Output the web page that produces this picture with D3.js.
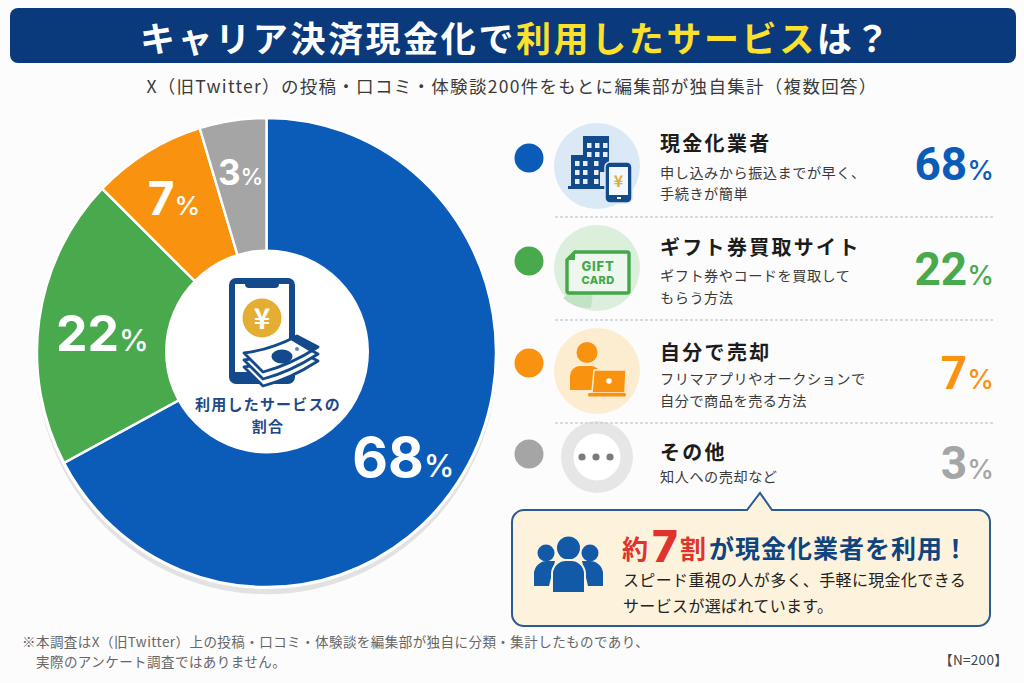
<!DOCTYPE html>
<html lang="ja"><head><meta charset="utf-8">
<script src="https://cdn.jsdelivr.net/npm/d3@7"></script>
<style>
html,body{margin:0;padding:0;background:#fcfcfc}
svg{display:block}
text{font-family:"Noto Sans CJK JP","Noto Sans",sans-serif;dominant-baseline:central}
text.num,tspan.num{font-family:Inter,"Liberation Sans",sans-serif;dominant-baseline:alphabetic}
tspan.rob{font-family:Roboto,"Liberation Sans",sans-serif;dominant-baseline:alphabetic}
</style></head><body><svg id="c" width="1024" height="683"></svg>
<script>
// ---- data ----
const categories = ["現金化業者","ギフト券買取サイト","自分で売却","その他"];
const percents = [68,22,7,3];               // printed labels
const drawnSweep = [67.2,20.1,8,4.7];       // slice sizes as actually drawn in the picture (measured angles, %)
const descriptions = [
  ["申し込みから振込までが早く、","手続きが簡単"],
  ["ギフト券やコードを買取して","もらう方法"],
  ["フリマアプリやオークションで","自分で商品を売る方法"],
  ["知人への売却など"]];
const colors = ["#0a5cb8","#48a94d","#f9920f","#a5a5a5"];
const tints = ["#dbe8f6","#dcefdc","#fdedd0","#e6e6e6"];

// ---- layout ----
const svg = d3.select("#c");
const cx=266.5, cy=352.5, R=229.5, r0=102;
const navy="#0a3a7c", mid="#134a8c", ink="#1c1c1c", body="#3a3a3a";
function T(g,x,y,s,size,fill,opt={}){
  return g.append("text").attr("x",x).attr("y",y).text(s)
   .attr("font-size",size).attr("fill",fill)
   .attr("font-weight",opt.w||400).attr("text-anchor",opt.a||"start")
   .style("letter-spacing",(opt.ls||0)+"px");
}
// header
svg.append("rect").attr("x",10).attr("y",8).attr("width",1006).attr("height",55).attr("rx",8).attr("fill",navy);
const title=svg.append("text").attr("x",516).attr("y",36).attr("text-anchor","middle")
  .attr("font-size",35).attr("font-weight",700).style("letter-spacing","2.6px");
title.append("tspan").attr("fill","#fff").text("キャリア決済現金化で");
title.append("tspan").attr("fill","#fce12c").text("利用したサービス");
title.append("tspan").attr("fill","#fff").text("は？");
T(svg,512,85,"X（旧Twitter）の投稿・口コミ・体験談200件をもとに編集部が独自集計（複数回答）",17.5,"#3a3a3a",{a:"middle",ls:1.3});

// pie
const pie=d3.pie().sort(null).value(d=>d)(drawnSweep);
const arc=d3.arc().innerRadius(0).outerRadius(R);
const pg=svg.append("g").attr("transform",`translate(${cx},${cy}) scale(1,1.022)`);
pg.append("circle").attr("cy",6).attr("r",R+1).attr("fill","#e2e2e2");
pg.append("circle").attr("cy",0).attr("r",R+2).attr("fill","#fcfcfc");
pg.selectAll("path.s").data(pie).join("path").attr("class","s")
  .attr("d",arc).attr("fill",(d,i)=>colors[i]).attr("stroke","#fff").attr("stroke-width",2.4);
svg.append("circle").attr("cx",267).attr("cy",351.5).attr("r",r0).attr("fill","#fff");
// slice labels
const labelR=[185,164,165.7,169.5], labelA=[11.3,-7.6,-2.6,-.3], labelFont=[[55,31],[50,30],[46,26],[35,23]];
const lg=svg.append("g").attr("transform",`translate(${cx},${cy})`);
lg.selectAll("text.p").data(pie).join("text").attr("class","p num")
  .attr("text-anchor","middle").attr("fill","#fff")
  .attr("x",(d,i)=>labelR[i]*Math.sin((d.startAngle+d.endAngle)/2+labelA[i]*Math.PI/180))
  .attr("y",(d,i)=>-labelR[i]*Math.cos((d.startAngle+d.endAngle)/2+labelA[i]*Math.PI/180))
  .each(function(d,i){const t=d3.select(this);
    t.append("tspan").attr("class","num").attr("font-weight",700).attr("font-size",labelFont[i][0]).text(percents[i]);
    t.append("tspan").attr("class","num").attr("font-weight",500).attr("font-size",labelFont[i][1]).text("%");});

// centre icon
const ci=svg.append("g");
ci.append("path").attr("fill-rule","evenodd").attr("fill",mid)
  .attr("d","M236 278h52a7 7 0 0 1 7 7v92a7 7 0 0 1-7 7h-52a7 7 0 0 1-7-7v-92a7 7 0 0 1 7-7zM235 284v93h54v-93h-10a4 4 0 0 1-4 4h-26a4 4 0 0 1-4-4z");
ci.append("circle").attr("cx",262).attr("cy",318).attr("r",19.5).attr("fill","#e3ae33");
T(ci,262,317,"¥",28,"#fff",{a:"middle",w:700});
ci.append("path").attr("fill",mid).attr("d","M232 372h28l8 12h-32z");
const bill=(dy)=>ci.append("path").attr("fill","#fff").attr("stroke",mid).attr("stroke-width",2.8).attr("stroke-linejoin","round")
  .attr("d",`M244 ${353+dy} Q270 ${350+dy} 297 ${336+dy} L318 ${347+dy} Q290 ${365+dy} 263 ${372+dy} Z`);
bill(14);bill(7);bill(0);
ci.append("ellipse").attr("cx",282).attr("cy",356.5).attr("rx",10.5).attr("ry",7).attr("fill",mid);
ci.append("circle").attr("cx",297).attr("cy",349).attr("r",2).attr("fill","#5d86b4");
ci.append("path").attr("fill",mid).attr("d","M297 336L318 347L309 351L289 339Z");
T(svg,268,403,"利用したサービスの",15,"#1d4a86",{a:"middle",w:700,ls:1.2});
T(svg,268,425,"割合",15,"#1d4a86",{a:"middle",w:700,ls:1.2});

// legend rows
const rowDot=[158,261,363,454], rowIcon=[166,268,371,457],
  rowTitle=[142,246,351,451], rowDesc=[[172,193],[275,297],[378,400],[476]], rowPct=[180,285,389,479];
const leg=svg.append("g");
leg.selectAll("circle.d").data(categories).join("circle").attr("class","d")
  .attr("cx",529).attr("cy",(d,i)=>rowDot[i]).attr("r",14.5).attr("fill",(d,i)=>colors[i]);
leg.selectAll("circle.i").data(categories).join("circle").attr("class","i")
  .attr("cx",597).attr("cy",(d,i)=>rowIcon[i]).attr("r",(d,i)=>i==3?36:43).attr("fill",(d,i)=>tints[i]);
categories.forEach((c,i)=>{
  T(leg,660,rowTitle[i],c,20,ink,{w:700,ls:2.3});
  descriptions[i].forEach((l,k)=>T(leg,660,rowDesc[i][k],l,14.2,body,{ls:.5}));
  const t=leg.append("text").attr("class","num").attr("x",994).attr("y",rowPct[i]).attr("text-anchor","end").attr("fill",colors[i]);
  t.append("tspan").attr("class","rob").attr("font-weight",700).attr("font-size",46).text(percents[i]);
  t.append("tspan").attr("class","num").attr("font-weight",500).attr("font-size",27).text("%");
});
[217,320,423].forEach(y=>leg.append("line").attr("x1",555).attr("x2",994).attr("y1",y).attr("y2",y)
  .attr("stroke","#c6d0da").attr("stroke-width",1.4).attr("stroke-dasharray","3 2"));

// icon 1: buildings + phone
const ic1=svg.append("g").attr("fill",mid);
ic1.append("rect").attr("x",583).attr("y",136).attr("width",26).attr("height",36);
ic1.append("rect").attr("x",571).attr("y",155).attr("width",29).attr("height",33);
ic1.append("rect").attr("x",568).attr("y",186).attr("width",39).attr("height",3);
[[587,143],[595,143],[603,143],[587,152],[595,152],[603,152],[575,161],[583,161],[594,161],[575,170],[583,170],[594,170],[575,179],[583,179],[594,179]]
  .forEach(p=>ic1.append("rect").attr("x",p[0]).attr("y",p[1]).attr("width",4.5).attr("height",5).attr("fill","#e6eff9"));
ic1.append("rect").attr("x",605).attr("y",162).attr("width",27).attr("height",41).attr("rx",5).attr("stroke","#dbe8f6").attr("stroke-width",1.5);
ic1.append("rect").attr("x",609).attr("y",167).attr("width",19).attr("height",28).attr("fill","#f4f7fb");
ic1.append("rect").attr("x",617).attr("y",197).attr("width",4).attr("height",2).attr("fill","#fff");
T(ic1,618.5,180,"¥",16,"#dcae3a",{a:"middle",w:700});
// icon 2: gift card
const ic2=svg.append("g");
ic2.append("path").attr("d","M571 292l-8 6a32 22 0 0 0 28 10l2-16z").attr("fill","#c3e3c5");
ic2.append("path").attr("d","M575 252h52a2 2 0 0 1 2 2v37a2 2 0 0 1-2 2h-58a2 2 0 0 1-2-2v-31z").attr("fill","#eef7ee").attr("stroke","#43a84a").attr("stroke-width",3.4);
ic2.append("path").attr("d","M567 260l8-8v8z").attr("fill","#43a84a");
T(ic2,598,265.5,"GIFT",13,"#43a84a",{a:"middle",w:800,ls:.8}).style("font-family","Inter");
T(ic2,598,280,"CARD",11,"#43a84a",{a:"middle",w:800,ls:.4}).style("font-family","Inter");
// icon 3: person + laptop
const ic3=svg.append("g").attr("fill","#f9920f");
ic3.append("circle").attr("cx",587).attr("cy",352.5).attr("r",10.5);
ic3.append("path").attr("d","M570 390v-14a10 10 0 0 1 10-10h12a9 9 0 0 1 6 3l-6 21z");
ic3.append("path").attr("d","M594 370h32l-1 23h-33z").attr("stroke","#fdedd0").attr("stroke-width",1.5);
ic3.append("rect").attr("x",588).attr("y",393).attr("width",38).attr("height",3.5).attr("rx",1.5);
ic3.append("circle").attr("cx",609).attr("cy",381).attr("r",2.8).attr("fill","#fff");
// icon 4: dots
svg.append("circle").attr("cx",597).attr("cy",457).attr("r",23.5).attr("fill","#fff");
[-14,0,14].forEach(d=>svg.append("circle").attr("cx",597+d-1).attr("cy",457).attr("r",3.6).attr("fill","#7b7b7b"));

// callout
svg.append("path").attr("fill","#fdf3dc").attr("stroke","#2b5a94").attr("stroke-width",2)
  .attr("d","M524 510H747L760 493L772 510H978a12 12 0 0 1 12 12V614a12 12 0 0 1-12 12H524a12 12 0 0 1-12-12V522a12 12 0 0 1 12-12Z");
const head=svg.append("text").attr("x",622).attr("y",547).attr("font-weight",700).attr("font-size",26);
head.append("tspan").attr("fill","#e1332d").text("約");
head.append("tspan").attr("fill","#e1332d").attr("class","num").attr("font-weight",800).attr("dx",4).attr("dy",15).attr("font-size",44).text("7");
head.append("tspan").attr("fill","#e1332d").attr("dy",-15).attr("dx",2).text("割");
head.append("tspan").attr("fill","#10447f").attr("dx",3).attr("font-size",25).style("letter-spacing","1px").text("が現金化業者を利用！");
T(svg,623,579,"スピード重視の人が多く、手軽に現金化できる",16,"#222",{w:400,ls:.35});
T(svg,623,605,"サービスが選ばれています。",16,"#222",{w:400,ls:.35});
// people icon
const pp=svg.append("g").attr("fill","#125aa8");
[[546,553],[590,553]].forEach(p=>{pp.append("circle").attr("cx",p[0]).attr("cy",p[1]).attr("r",8.5);});
pp.append("path").attr("d","M534 586v-13a13 13 0 0 1 13-12h8l-6 25z M603 586v-13a13 13 0 0 0-13-12h-8l6 25z");
pp.append("circle").attr("cx",568.5).attr("cy",548).attr("r",11.5);
pp.append("path").attr("d","M552 593v-20a14 14 0 0 1 14-13h5a14 14 0 0 1 14 13v20z").attr("stroke","#fdf3dc").attr("stroke-width",2);

// notes
T(svg,22,641,"※本調査はX（旧Twitter）上の投稿・口コミ・体験談を編集部が独自に分類・集計したものであり、",13.5,"#666",{ls:.45});
T(svg,36,661,"実際のアンケート調査ではありません。",13.5,"#666",{ls:.45});
T(svg,1008,659,"【N=200】",13.5,"#444",{a:"end",ls:.3});
</script></body></html>
